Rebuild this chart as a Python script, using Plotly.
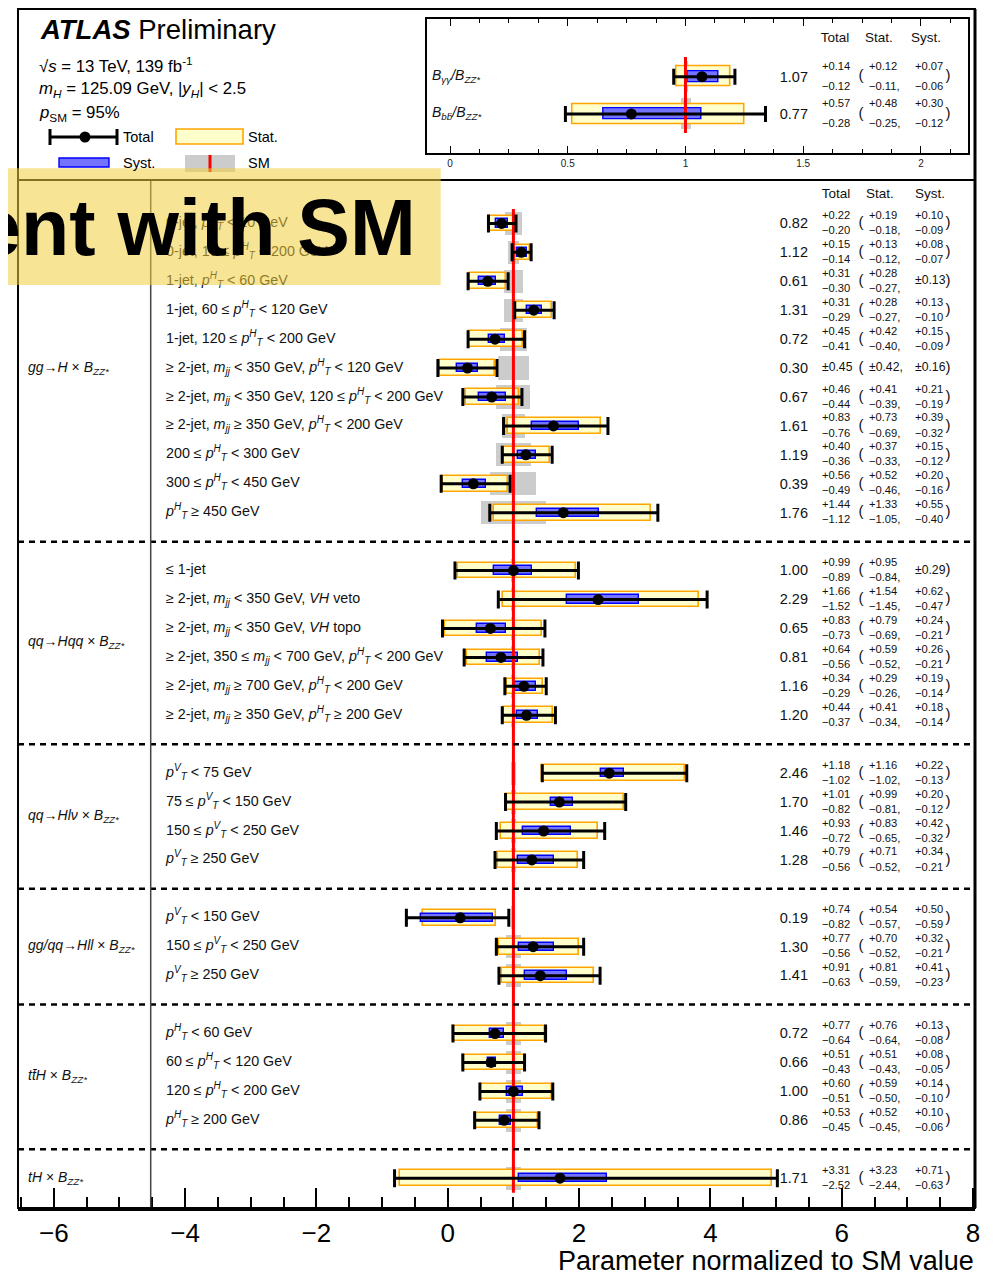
import plotly.graph_objects as go

# ------------------------------------------------------------------ data
PTH = "<i>p</i><sup><i>H</i></sup><sub><i>T</i></sub>"
PTV = "<i>p</i><sup><i>V</i></sup><sub><i>T</i></sub>"
MJJ = "<i>m</i><sub><i>jj</i></sub>"
BZZ = "<i>B</i><sub><i>ZZ*</i></sub>"

group_labels = [
    f"<i>gg</i>→<i>H</i> × {BZZ}",
    f"<i>qq</i>→<i>Hqq</i> × {BZZ}",
    f"<i>qq</i>→<i>Hlν</i> × {BZZ}",
    f"<i>gg/qq</i>→<i>Hll</i> × {BZZ}",
    f"<i>tt\u0304H</i> × {BZZ}",
    f"<i>tH</i> × {BZZ}",
]
group_sizes = [11, 6, 4, 3, 4, 1]

row_labels = [
    f"0-jet, {PTH} < 10 GeV",
    f"0-jet, 10 ≤ {PTH} < 200 GeV",
    f"1-jet, {PTH} < 60 GeV",
    f"1-jet, 60 ≤ {PTH} < 120 GeV",
    f"1-jet, 120 ≤ {PTH} < 200 GeV",
    f"≥ 2-jet, {MJJ} < 350 GeV, {PTH} < 120 GeV",
    f"≥ 2-jet, {MJJ} < 350 GeV, 120 ≤ {PTH} < 200 GeV",
    f"≥ 2-jet, {MJJ} ≥ 350 GeV, {PTH} < 200 GeV",
    f"200 ≤ {PTH} < 300 GeV",
    f"300 ≤ {PTH} < 450 GeV",
    f"{PTH} ≥ 450 GeV",
    "≤ 1-jet",
    f"≥ 2-jet, {MJJ} < 350 GeV, <i>VH</i> veto",
    f"≥ 2-jet, {MJJ} < 350 GeV, <i>VH</i> topo",
    f"≥ 2-jet, 350 ≤ {MJJ} < 700 GeV, {PTH} < 200 GeV",
    f"≥ 2-jet, {MJJ} ≥ 700 GeV, {PTH} < 200 GeV",
    f"≥ 2-jet, {MJJ} ≥ 350 GeV, {PTH} ≥ 200 GeV",
    f"{PTV} < 75 GeV",
    f"75 ≤ {PTV} < 150 GeV",
    f"150 ≤ {PTV} < 250 GeV",
    f"{PTV} ≥ 250 GeV",
    f"{PTV} < 150 GeV",
    f"150 ≤ {PTV} < 250 GeV",
    f"{PTV} ≥ 250 GeV",
    f"{PTH} < 60 GeV",
    f"60 ≤ {PTH} < 120 GeV",
    f"120 ≤ {PTH} < 200 GeV",
    f"{PTH} ≥ 200 GeV",
    "",
]
values = [0.82, 1.12, 0.61, 1.31, 0.72, 0.30, 0.67, 1.61, 1.19, 0.39, 1.76,
          1.00, 2.29, 0.65, 0.81, 1.16, 1.20,
          2.46, 1.70, 1.46, 1.28,
          0.19, 1.30, 1.41,
          0.72, 0.66, 1.00, 0.86,
          1.71]
tot_up = [0.22, 0.15, 0.31, 0.31, 0.45, 0.45, 0.46, 0.83, 0.40, 0.56, 1.44,
          0.99, 1.66, 0.83, 0.64, 0.34, 0.44,
          1.18, 1.01, 0.93, 0.79,
          0.74, 0.77, 0.91,
          0.77, 0.51, 0.60, 0.53,
          3.31]
tot_dn = [0.20, 0.14, 0.30, 0.29, 0.41, 0.45, 0.44, 0.76, 0.36, 0.49, 1.12,
          0.89, 1.52, 0.73, 0.56, 0.29, 0.37,
          1.02, 0.82, 0.72, 0.56,
          0.82, 0.56, 0.63,
          0.64, 0.43, 0.51, 0.45,
          2.52]
stat_up = [0.19, 0.13, 0.28, 0.28, 0.42, 0.42, 0.41, 0.73, 0.37, 0.52, 1.33,
           0.95, 1.54, 0.79, 0.59, 0.29, 0.41,
           1.16, 0.99, 0.83, 0.71,
           0.54, 0.70, 0.81,
           0.76, 0.51, 0.59, 0.52,
           3.23]
stat_dn = [0.18, 0.12, 0.27, 0.27, 0.40, 0.42, 0.39, 0.69, 0.33, 0.46, 1.05,
           0.84, 1.45, 0.69, 0.52, 0.26, 0.34,
           1.02, 0.81, 0.65, 0.52,
           0.57, 0.52, 0.59,
           0.64, 0.43, 0.50, 0.45,
           2.44]
syst_up = [0.10, 0.08, 0.13, 0.13, 0.15, 0.16, 0.21, 0.39, 0.15, 0.20, 0.55,
           0.29, 0.62, 0.24, 0.26, 0.19, 0.18,
           0.22, 0.20, 0.42, 0.34,
           0.50, 0.32, 0.41,
           0.13, 0.08, 0.14, 0.10,
           0.71]
syst_dn = [0.09, 0.07, 0.13, 0.10, 0.09, 0.16, 0.19, 0.32, 0.12, 0.16, 0.40,
           0.29, 0.47, 0.21, 0.21, 0.14, 0.14,
           0.13, 0.12, 0.32, 0.21,
           0.59, 0.21, 0.23,
           0.08, 0.05, 0.10, 0.06,
           0.63]
sm_unc = [0.13, 0.08, 0.15, 0.15, 0.20, 0.24, 0.26, 0.17, 0.27, 0.35, 0.50,
          0.03, 0.03, 0.03, 0.03, 0.03, 0.03,
          0.04, 0.04, 0.04, 0.04,
          0.03, 0.12, 0.12,
          0.12, 0.12, 0.12, 0.12,
          0.12]

inset_labels = ["<i>B</i><sub><i>γγ</i></sub><i>/B</i><sub><i>ZZ*</i></sub>",
                "<i>B</i><sub><i>bb\u0304</i></sub><i>/B</i><sub><i>ZZ*</i></sub>"]
inset_values = [1.07, 0.77]
inset_tot_up = [0.14, 0.57]
inset_tot_dn = [0.12, 0.28]
inset_stat_up = [0.12, 0.48]
inset_stat_dn = [0.11, 0.25]
inset_syst_up = [0.07, 0.30]
inset_syst_dn = [0.06, 0.12]
inset_sm_unc = [0.01, 0.02]

SM_VALUE = 1.0
column_headers = ["Total", "Stat.", "Syst."]

# ------------------------------------------------------------------ geometry helpers
# all pixel constants below are page pixels; the page body has an 8 px margin
OFF = 8
W, H = 1003 - OFF, 1274 - OFF
PX_L, PX_R, PY_T, PY_B = 18, 975, OFF, 1208      # paper box in page pixels
ML, MR, MT, MB = PX_L - OFF, 1003 - PX_R, PY_T - OFF, 1274 - PY_B
PW, PH = PX_R - PX_L, PY_B - PY_T


def pxx(px):
    return (px - PX_L) / PW


def pyy(py):
    return (PY_B - py) / PH


XR = [-6.545, 8.03]
YR = [34.03, -1.5]
IXR = [-0.1, 2.2]
IYR = [2.04, -1.54]
IX0, IX1, IY0, IY1 = 426.5, 968, 19.3, 152.7


def mx(px):  # main-axis x from page pixel
    return XR[0] + (px - PX_L) / PW * (XR[1] - XR[0])


def ix(px):  # inset-axis x from page pixel
    return IXR[0] + (px - IX0) / (IX1 - IX0) * (IXR[1] - IXR[0])


# row positions
rows, group_centers, separators = [], [], []
r = 0
for gi, n in enumerate(group_sizes):
    rows += list(range(r, r + n))
    group_centers.append(r + (n - 1) / 2)
    r += n
    if gi < len(group_sizes) - 1:
        separators.append(r)
        r += 1

FONT = "Liberation Sans, Arial, sans-serif"
YELLOW, ORANGE = "#ffffcc", "#ffa500"
BLUE_F, BLUE_L = "#7373ff", "#0000ff"
GREY = "#cccccc"

fig = go.Figure()


def add_block(xa, ya, ys, vals, tu, td, su, sd, yu, yd, sm, sm_h, st_h, sy_h, cap, red_y):
    fig.add_trace(go.Bar(orientation="h", y=ys, base=[SM_VALUE - s for s in sm],
                         x=[2 * s for s in sm], width=sm_h, xaxis=xa, yaxis=ya,
                         marker=dict(color=GREY, line=dict(width=0)), hoverinfo="skip"))
    fig.add_trace(go.Bar(orientation="h", y=ys, base=[v - d for v, d in zip(vals, sd)],
                         x=[u + d for u, d in zip(su, sd)], width=st_h, xaxis=xa, yaxis=ya,
                         marker=dict(color=YELLOW, line=dict(color=ORANGE, width=1.6)),
                         hoverinfo="skip"))
    fig.add_trace(go.Scatter(x=[SM_VALUE, SM_VALUE], y=red_y, mode="lines", xaxis=xa, yaxis=ya,
                             line=dict(color="#ff0000", width=3), hoverinfo="skip"))
    fig.add_trace(go.Bar(orientation="h", y=ys, base=[v - d for v, d in zip(vals, yd)],
                         x=[u + d for u, d in zip(yu, yd)], width=sy_h, xaxis=xa, yaxis=ya,
                         marker=dict(color=BLUE_F, line=dict(color=BLUE_L, width=1.4)),
                         hoverinfo="skip"))
    fig.add_trace(go.Scatter(x=vals, y=ys, mode="markers", xaxis=xa, yaxis=ya,
                             marker=dict(color="black", size=11),
                             error_x=dict(type="data", symmetric=False, array=tu, arrayminus=td,
                                          color="black", thickness=3, width=cap),
                             hoverinfo="skip"))


add_block("x", "y", rows, values, tot_up, tot_dn, stat_up, stat_dn, syst_up, syst_dn,
          sm_unc, 0.8, 0.54, 0.29, 9, [-0.5, rows[-1] + 0.5])
add_block("x2", "y2", [0, 1], inset_values, inset_tot_up, inset_tot_dn, inset_stat_up,
          inset_stat_dn, inset_syst_up, inset_syst_dn, inset_sm_unc, 0.85, 0.54, 0.29, 8,
          [-0.53, 1.51])

ERR_FS, SYM_FS, VAL_FS, HDR_FS = 11.2, 12.2, 14.5, 13.5


def number_columns(ys, vals, tu, td, su, sd, yu, yd, conv):
    X, Y, T, S, P = [], [], [], [], []
    c_val, c_tot, c_po, c_stat, c_syst, c_pc = (conv(808), conv(822), conv(861),
                                                 conv(869), conv(915), conv(948))

    def add_err(x, r, up, dn, suffix=""):
        if abs(up - dn) < 1e-9:
            X.append(x); Y.append(r); T.append(f"±{up:.2f}{suffix}"); S.append(SYM_FS)
            P.append("middle right")
        else:
            X.extend([x, x]); Y.extend([r - 0.25, r + 0.27])
            T.extend([f"+{up:.2f}", f"\u2212{dn:.2f}{suffix}"]); S.extend([ERR_FS, ERR_FS])
            P.extend(["middle right", "middle right"])

    for i, r in enumerate(ys):
        X.append(c_val); Y.append(r + 0.04); T.append(f"{vals[i]:.2f}"); S.append(VAL_FS)
        P.append("middle left")
        add_err(c_tot, r, tu[i], td[i])
        add_err(c_stat, r, su[i], sd[i], ",")
        add_err(c_syst, r, yu[i], yd[i])
        X.extend([c_po, c_pc]); Y.extend([r, r]); T.extend(["(", ")"]); S.extend([15, 15])
        P.extend(["middle center", "middle center"])
    return X, Y, T, S, P


# main numbers
X, Y, T, S, P = number_columns(rows, values, tot_up, tot_dn, stat_up, stat_dn,
                               syst_up, syst_dn, mx)
for h, px in zip(column_headers, [836, 880, 930]):
    X.append(mx(px)); Y.append(-1.01); T.append(h); S.append(HDR_FS); P.append("middle center")
fig.add_trace(go.Scatter(x=X, y=Y, text=T, mode="text", textposition=P,
                         textfont=dict(size=S, family=FONT, color="#111"),
                         cliponaxis=False, hoverinfo="skip"))

# inset numbers
X, Y, T, S, P = number_columns([0, 1], inset_values, inset_tot_up, inset_tot_dn,
                               inset_stat_up, inset_stat_dn, inset_syst_up, inset_syst_dn, ix)
for h, px in zip(column_headers, [835, 879, 926]):
    X.append(ix(px)); Y.append(-1.01); T.append(h); S.append(HDR_FS); P.append("middle center")
for lab, rr in zip(inset_labels, [0, 1]):
    X.append(ix(432)); Y.append(rr); T.append(lab); S.append(14); P.append("middle right")
fig.add_trace(go.Scatter(x=X, y=Y, text=T, mode="text", textposition=P, xaxis="x2", yaxis="y2",
                         textfont=dict(size=S, family=FONT, color="#111"),
                         cliponaxis=False, hoverinfo="skip"))

# row labels and group labels
fig.add_trace(go.Scatter(x=[mx(166)] * len(rows), y=rows, text=row_labels, mode="text",
                         textposition="middle right",
                         textfont=dict(size=14.3, family=FONT, color="#111"), hoverinfo="skip"))
fig.add_trace(go.Scatter(x=[mx(28)] * len(group_centers), y=group_centers, text=group_labels,
                         mode="text", textposition="middle right",
                         textfont=dict(size=14, family=FONT, color="#111"), hoverinfo="skip"))

# ------------------------------------------------------------------ shapes
shapes = []
for s in separators:
    shapes.append(dict(type="line", xref="x", yref="y", x0=XR[0], x1=XR[1], y0=s, y1=s,
                       line=dict(color="black", width=2.5, dash="6px,5px"), layer="above"))
shapes.append(dict(type="line", xref="x", yref="y", x0=mx(150.7), x1=mx(150.7), y0=YR[1],
                   y1=YR[0], line=dict(color="#444", width=1.5), layer="above"))
# outer frame
shapes.append(dict(type="rect", xref="paper", yref="paper", x0=0, x1=1, y0=0, y1=pyy(9),
                   line=dict(color="black", width=2), layer="above"))
shapes.append(dict(type="line", xref="paper", yref="paper", x0=1, x1=1, y0=0, y1=pyy(9),
                   line=dict(color="black", width=3), layer="above"))
shapes.append(dict(type="line", xref="paper", yref="paper", x0=0, x1=1, y0=pyy(180),
                   y1=pyy(180), line=dict(color="black", width=2), layer="above"))
# legend symbols
shapes.append(dict(type="line", xref="paper", yref="paper", x0=pxx(50), x1=pxx(117),
                   y0=pyy(137), y1=pyy(137), line=dict(color="black", width=3)))
for cx in (50, 117):
    shapes.append(dict(type="line", xref="paper", yref="paper", x0=pxx(cx), x1=pxx(cx),
                       y0=pyy(129), y1=pyy(145), line=dict(color="black", width=3)))
shapes.append(dict(type="circle", xref="paper", yref="paper", x0=pxx(79.5), x1=pxx(90.5),
                   y0=pyy(131.5), y1=pyy(142.5), fillcolor="black", line=dict(width=0)))
shapes.append(dict(type="rect", xref="paper", yref="paper", x0=pxx(176), x1=pxx(243),
                   y0=pyy(129), y1=pyy(144), fillcolor=YELLOW,
                   line=dict(color=ORANGE, width=1.6)))
shapes.append(dict(type="rect", xref="paper", yref="paper", x0=pxx(59), x1=pxx(109),
                   y0=pyy(158), y1=pyy(167), fillcolor=BLUE_F, line=dict(color=BLUE_L, width=1.4)))
shapes.append(dict(type="rect", xref="paper", yref="paper", x0=pxx(185), x1=pxx(235),
                   y0=pyy(155), y1=pyy(172), fillcolor=GREY, line=dict(width=0)))
shapes.append(dict(type="line", xref="paper", yref="paper", x0=pxx(210), x1=pxx(210),
                   y0=pyy(155), y1=pyy(172), line=dict(color="#ff0000", width=3)))
# overlay banner (last, on top)
shapes.append(dict(type="rect", xref="paper", yref="paper", x0=pxx(0), x1=pxx(440.7),
                   y0=pyy(285), y1=pyy(168.3), fillcolor="rgba(240,205,60,0.55)",
                   line=dict(width=0), layer="above"))

# ------------------------------------------------------------------ annotations
ann = []


def txt(px, py, s, size, anchor="left"):
    ann.append(dict(x=pxx(px), y=pyy(py), xref="paper", yref="paper", text=s, showarrow=False,
                    xanchor=anchor, yanchor="middle",
                    font=dict(size=size, family=FONT, color="black")))


txt(38, 30, "<b><i>ATLAS</i></b> Preliminary", 27.5)
txt(37, 65, "√<i>s</i> = 13 TeV, 139 fb<sup>-1</sup>", 16.8)
txt(37, 89, "<i>m</i><sub><i>H</i></sub> = 125.09 GeV, |<i>y</i><sub><i>H</i></sub>| < 2.5", 16.8)
txt(37, 113, "<i>p</i><sub>SM</sub> = 95%", 16.8)
txt(121, 137, "Total", 14.5)
txt(246, 137, "Stat.", 14.5)
txt(121, 163, "Syst.", 14.5)
txt(246, 163, "SM", 14.5)
txt(976, 1261, "Parameter normalized to SM value", 27, anchor="right")
txt(418, 227, "<b>ent with SM</b>", 79, anchor="right")

fig.update_layout(
    width=W, height=H, margin=dict(l=ML, r=MR, t=MT, b=MB, autoexpand=False),
    paper_bgcolor="white", plot_bgcolor="rgba(0,0,0,0)", showlegend=False,
    barmode="overlay", bargap=0, hovermode=False,
    shapes=shapes, annotations=ann,
    font=dict(family=FONT, color="black"),
    xaxis=dict(domain=[0, 1], range=XR, anchor="y", showgrid=False, zeroline=False,
               showline=True, linecolor="black", linewidth=2.5,
               tick0=0, dtick=2, ticks="inside", ticklen=20, tickwidth=1.5, tickcolor="black",
               tickfont=dict(size=26, family=FONT, color="black"),
               minor=dict(dtick=0.5, tick0=0, ticks="inside", ticklen=11, tickwidth=1.5,
                          tickcolor="black", showgrid=False)),
    yaxis=dict(domain=[0, pyy(180)], range=YR, anchor="x", showgrid=False, zeroline=False,
               showticklabels=False, ticks="", showline=False),
    xaxis2=dict(domain=[pxx(IX0), pxx(IX1)], range=IXR, anchor="y2", showgrid=False,
                zeroline=False, showline=True, linecolor="black", linewidth=2, mirror="ticks",
                tick0=0, dtick=0.5, ticks="inside", ticklen=7, tickwidth=1, tickcolor="black",
                tickfont=dict(size=10, family=FONT, color="#222"),
                minor=dict(dtick=0.125, tick0=0, ticks="inside", ticklen=4, tickwidth=1,
                           tickcolor="black", showgrid=False)),
    yaxis2=dict(domain=[pyy(IY1), pyy(IY0)], range=IYR, anchor="x2", showgrid=False,
                zeroline=False, showticklabels=False, ticks="", showline=True,
                linecolor="black", linewidth=2, mirror=True),
)

fig.write_html("out.html")
